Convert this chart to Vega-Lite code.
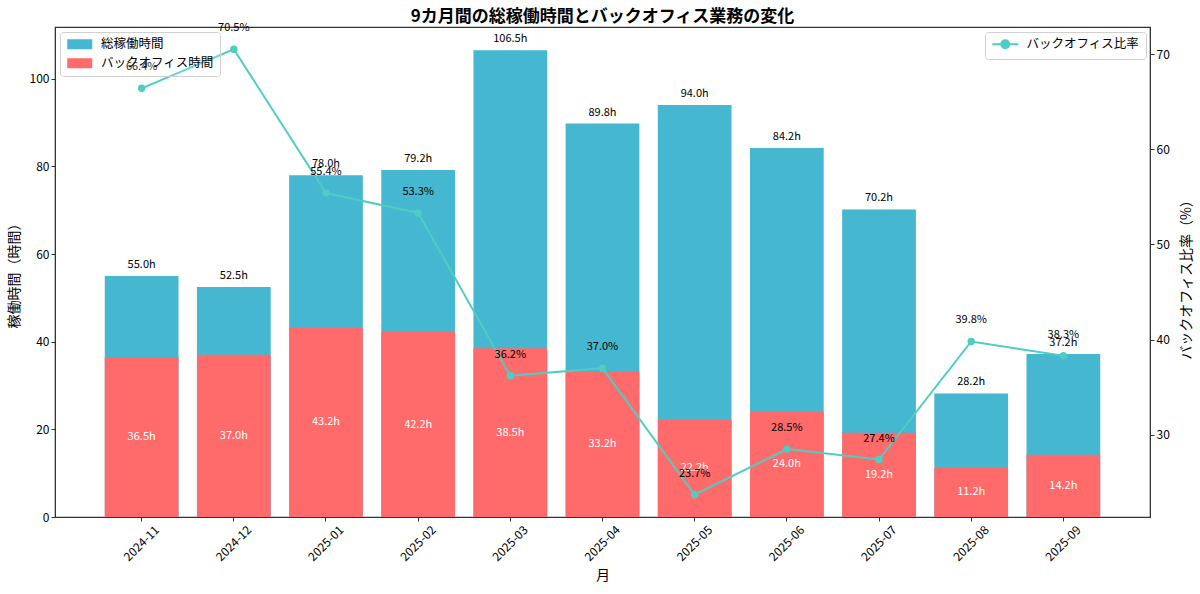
{
  "$schema": "https://vega.github.io/schema/vega-lite/v6.json",
  "width": 1095,
  "height": 490,
  "autosize": {"type": "none"},
  "padding": {"left": 55, "top": 27, "right": 50, "bottom": 77},
  "title": {
    "text": "9カ月間の総稼働時間とバックオフィス業務の変化",
    "fontSize": 17,
    "fontWeight": "bold",
    "font": "Noto Sans CJK JP",
    "color": "black",
    "anchor": "middle",
    "offset": -4
  },
  "data": {
    "values": [
      {"month": "2024-11", "total": 55.0, "bo": 36.5, "ratio": 66.4, "total_label": "55.0h", "bo_label": "36.5h", "ratio_label": "66.4%"},
      {"month": "2024-12", "total": 52.5, "bo": 37.0, "ratio": 70.5, "total_label": "52.5h", "bo_label": "37.0h", "ratio_label": "70.5%"},
      {"month": "2025-01", "total": 78.0, "bo": 43.2, "ratio": 55.4, "total_label": "78.0h", "bo_label": "43.2h", "ratio_label": "55.4%"},
      {"month": "2025-02", "total": 79.2, "bo": 42.2, "ratio": 53.3, "total_label": "79.2h", "bo_label": "42.2h", "ratio_label": "53.3%"},
      {"month": "2025-03", "total": 106.5, "bo": 38.5, "ratio": 36.2, "total_label": "106.5h", "bo_label": "38.5h", "ratio_label": "36.2%"},
      {"month": "2025-04", "total": 89.8, "bo": 33.2, "ratio": 37.0, "total_label": "89.8h", "bo_label": "33.2h", "ratio_label": "37.0%"},
      {"month": "2025-05", "total": 94.0, "bo": 22.2, "ratio": 23.7, "total_label": "94.0h", "bo_label": "22.2h", "ratio_label": "23.7%"},
      {"month": "2025-06", "total": 84.2, "bo": 24.0, "ratio": 28.5, "total_label": "84.2h", "bo_label": "24.0h", "ratio_label": "28.5%"},
      {"month": "2025-07", "total": 70.2, "bo": 19.2, "ratio": 27.4, "total_label": "70.2h", "bo_label": "19.2h", "ratio_label": "27.4%"},
      {"month": "2025-08", "total": 28.2, "bo": 11.2, "ratio": 39.8, "total_label": "28.2h", "bo_label": "11.2h", "ratio_label": "39.8%"},
      {"month": "2025-09", "total": 37.2, "bo": 14.2, "ratio": 38.3, "total_label": "37.2h", "bo_label": "14.2h", "ratio_label": "38.3%"}
    ]
  },
  "encoding": {
    "x": {
      "field": "month",
      "type": "ordinal",
      "title": "月",
      "scale": {"paddingInner": 0.2, "paddingOuter": 0.54},
      "axis": {
        "labelAngle": -45,
        "labelAlign": "center",
        "labelBaseline": "middle",
        "labelPadding": 22,
        "labelOverlap": false,
        "labelFlush": false,
        "titlePadding": 6
      }
    }
  },
  "layer": [
    {
      "layer": [
        {
          "mark": {"type": "bar"},
          "encoding": {
            "y": {
              "field": "total",
              "type": "quantitative",
              "title": "稼働時間（時間）",
              "scale": {"domain": [0, 111.825], "nice": false, "zero": true},
              "axis": {"orient": "left", "values": [0, 20, 40, 60, 80, 100], "titlePadding": 8}
            },
            "color": {
              "datum": "総稼働時間",
              "scale": {
                "domain": ["総稼働時間", "バックオフィス時間"],
                "range": ["#45B7D1", "#FF6B6B"]
              },
              "legend": {
                "title": null,
                "orient": "none",
                "legendX": 5,
                "legendY": 5,
                "symbolType": "M-2.5,-1H2.5V1H-2.5Z",
                "symbolSize": 100,
                "symbolOffset": 7.5,
                "symbolStrokeWidth": 0,
                "symbolOpacity": 1,
                "labelFontSize": 12.5,
                "rowPadding": 6,
                "labelOffset": 15,
                "fillColor": "rgba(255,255,255,0.15)"
              }
            }
          }
        },
        {
          "mark": {"type": "bar"},
          "encoding": {
            "y": {"field": "bo", "type": "quantitative"},
            "color": {"datum": "バックオフィス時間"}
          }
        },
        {
          "mark": {"type": "text", "baseline": "bottom", "dy": -6, "fontSize": 11, "color": "black", "font": "Noto Sans CJK JP"},
          "encoding": {
            "y": {"field": "total", "type": "quantitative"},
            "text": {"field": "total_label"}
          }
        }
      ]
    },
    {
      "mark": {"type": "text", "baseline": "middle", "fontSize": 11, "color": "white", "font": "Noto Sans CJK JP"},
      "encoding": {
        "y": {
          "field": "bo",
          "type": "quantitative",
          "scale": {"domain": [0, 223.65], "nice": false},
          "axis": null
        },
        "text": {"field": "bo_label"}
      }
    },
    {
      "layer": [
        {
          "mark": {"type": "line", "strokeWidth": 2},
          "encoding": {
            "y": {
              "field": "ratio",
              "type": "quantitative",
              "title": "バックオフィス比率（%）",
              "scale": {"domain": [21.36, 72.84], "nice": false, "zero": false},
              "axis": {
                "orient": "right",
                "values": [30, 40, 50, 60, 70],
                "titleAngle": -90,
                "titleX": 36,
                "titleY": 249,
                "titleAlign": "center",
                "titleBaseline": "middle"
              }
            },
            "stroke": {
              "datum": "バックオフィス比率",
              "scale": {"range": ["#4ECDC4"]},
              "legend": {
                "title": null,
                "orient": "none",
                "legendX": 930,
                "legendY": 5,
                "symbolType": "M-2.6,0H2.6M-0.8,0A0.8,0.8 0 1,1 0.8,0A0.8,0.8 0 1,1 -0.8,0Z",
                "symbolSize": 100,
                "symbolOffset": 8,
                "symbolStrokeWidth": 2,
                "symbolFillColor": "#4ECDC4",
                "labelFontSize": 12.5,
                "labelOffset": 15,
                "encode": {"symbols": {"update": {"fill": {"value": "#4ECDC4"}}}}
              }
            }
          }
        },
        {
          "mark": {"type": "point", "filled": true, "size": 55, "color": "#4ECDC4", "opacity": 1},
          "encoding": {"y": {"field": "ratio", "type": "quantitative"}}
        },
        {
          "mark": {"type": "text", "baseline": "bottom", "dy": -16, "fontSize": 11, "color": "black", "font": "Noto Sans CJK JP"},
          "encoding": {
            "y": {"field": "ratio", "type": "quantitative"},
            "text": {"field": "ratio_label"}
          }
        }
      ]
    }
  ],
  "resolve": {"scale": {"y": "independent"}},
  "config": {
    "font": "Noto Sans CJK JP",
    "view": {"stroke": "#333", "strokeWidth": 1.2},
    "axis": {
      "grid": false,
      "labelFont": "Noto Sans CJK JP",
      "labelFontSize": 12,
      "labelColor": "black",
      "titleFont": "Noto Sans CJK JP",
      "titleFontSize": 14,
      "titleFontWeight": "normal",
      "titleColor": "black",
      "domainColor": "#333",
      "tickColor": "#333",
      "tickSize": 4
    },
    "legend": {
      "labelFont": "Noto Sans CJK JP",
      "labelColor": "black",
      "strokeColor": "#d0d0d0",
      "fillColor": "rgba(255,255,255,0.8)",
      "cornerRadius": 3,
      "padding": 6
    }
  }
}
